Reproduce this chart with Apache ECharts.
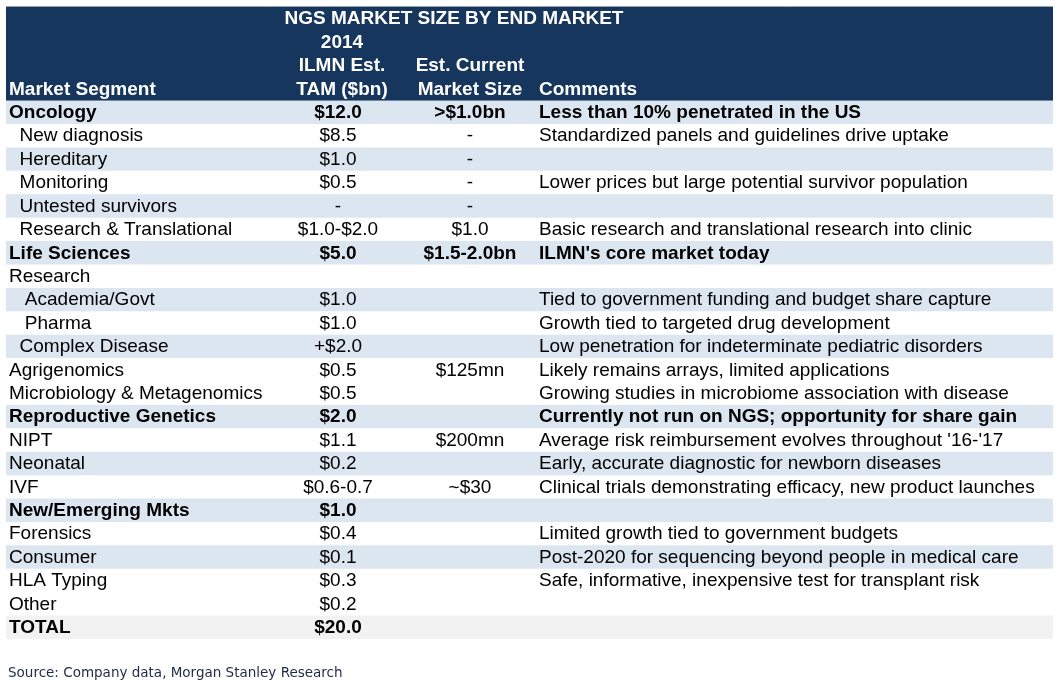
<!doctype html>
<html lang="en">
  <head>
    <meta charset="utf-8">
    <title>NGS Market Size by End Market</title>
    <script src="https://cdn.jsdelivr.net/npm/echarts@6/dist/echarts.min.js"></script>
    <style>
      html, body { margin: 0; padding: 0; background: #fff; }
      #main { width: 1062px; height: 688px; }
    </style>
  </head>
  <body>
    <div id="main"></div>

  <script>

    // Table content
    var headerLines = [
      ['', 'NGS MARKET SIZE BY END MARKET', '', ''],
      ['', '2014', '', ''],
      ['', 'ILMN Est.', 'Est. Current', ''],
      ['Market Segment', 'TAM ($bn)', 'Market Size', 'Comments']
    ];

    // leading spaces are the indents used in the source sheet
    var segments = [
      'Oncology', '  New diagnosis', '  Hereditary', '  Monitoring', '  Untested survivors',
      '  Research & Translational', 'Life Sciences', 'Research', '   Academia/Govt', '   Pharma',
      '  Complex Disease', 'Agrigenomics', 'Microbiology & Metagenomics', 'Reproductive Genetics',
      'NIPT', 'Neonatal', 'IVF', 'New/Emerging Mkts', 'Forensics', 'Consumer', 'HLA Typing',
      'Other', 'TOTAL'
    ];

    var tam = [
      '$12.0', '$8.5', '$1.0', '$0.5', '-', '$1.0-$2.0', '$5.0', '', '$1.0', '$1.0',
      '+$2.0', '$0.5', '$0.5', '$2.0', '$1.1', '$0.2', '$0.6-0.7', '$1.0', '$0.4', '$0.1',
      '$0.3', '$0.2', '$20.0'
    ];

    var currentSize = [
      '>$1.0bn', '-', '-', '-', '-', '$1.0', '$1.5-2.0bn', '', '', '',
      '', '$125mn', '', '', '$200mn', '', '~$30', '', '', '',
      '', '', ''
    ];

    var comments = [
      'Less than 10% penetrated in the US',
      'Standardized panels and guidelines drive uptake',
      '', 
      'Lower prices but large potential survivor population',
      '',
      'Basic research and translational research into clinic',
      "ILMN's core market today",
      '',
      'Tied to government funding and budget share capture',
      'Growth tied to targeted drug development',
      'Low penetration for indeterminate pediatric disorders',
      'Likely remains arrays, limited applications',
      'Growing studies in microbiome association with disease',
      'Currently not run on NGS; opportunity for share gain',
      "Average risk reimbursement evolves throughout '16-'17",
      'Early, accurate diagnostic for newborn diseases',
      'Clinical trials demonstrating efficacy, new product launches',
      '',
      'Limited growth tied to government budgets',
      'Post-2020 for sequencing beyond people in medical care',
      'Safe, informative, inexpensive test for transplant risk',
      '',
      ''
    ];

    // row kind: g = group heading (bold), i = item, t = total
    var rowKind = [
      'g', 'i', 'i', 'i', 'i', 'i', 'g', 'i', 'i', 'i', 'i', 'i', 'i', 'g',
      'i', 'i', 'i', 'g', 'i', 'i', 'i', 'i', 't'
    ];

    // layout / style (not data)
    var shadedRows = [0, 2, 4, 6, 8, 10, 13, 15, 17, 19];
    var TABLE_W = 1047;
    var colX = { seg: 3, tam: 332, cur: 464, com: 533, title: 448, head2: 336 };
    var NAVY = '#17365d', BAND = '#dce6f1', TOTAL_BG = '#f2f2f2';
    var FONT = 'Liberation Sans, Arial, sans-serif';
    var FS = 19;

    var nHead = headerLines.length;
    var rowCats = [];
    for (var r = 0; r < nHead + segments.length; r++) rowCats.push('r' + r);

    var rowsData = rowCats.map(function (c, i) { return [0, i]; });

    function txt(x, y, s, align, bold, color) {
      return {
        type: 'text', x: x, y: y, silent: true,
        style: {
          text: s, fill: color, align: align, verticalAlign: 'middle',
          font: (bold ? 'bold ' : '') + FS + 'px ' + FONT
        }
      };
    }

    function renderRow(params, api) {
      var idx = api.value(1);
      var c = api.coord([0, idx]);
      var h = api.size([0, 1])[1];
      var x0 = c[0];
      var x1 = api.coord([TABLE_W, idx])[0];
      var yMid = c[1] + 0.5;
      var children = [];
      var px = function (v) { return api.coord([v, idx])[0]; };

      if (idx < nHead) {
        if (idx === 0) {
          // one navy block behind all header lines
          children.push({
            type: 'rect', silent: true,
            shape: { x: x0, y: c[1] - h / 2, width: x1 - x0, height: h * nHead },
            style: { fill: NAVY }
          });
        }
        var hl = headerLines[idx];
        if (hl[0]) children.push(txt(px(colX.seg), yMid, hl[0], 'left', true, '#fff'));
        if (idx === 0) {
          children.push(txt(px(colX.title), yMid, hl[1], 'center', true, '#fff'));
        } else if (hl[1]) {
          children.push(txt(px(colX.head2), yMid, hl[1], 'center', true, '#fff'));
        }
        if (hl[2]) children.push(txt(px(colX.cur), yMid, hl[2], 'center', true, '#fff'));
        if (hl[3]) children.push(txt(px(colX.com), yMid, hl[3], 'left', true, '#fff'));
        return { type: 'group', children: children };
      }

      var b = idx - nHead;
      var kind = rowKind[b];
      var fill = kind === 't' ? TOTAL_BG : (shadedRows.indexOf(b) >= 0 ? BAND : null);
      if (fill) {
        children.push({
          type: 'rect', silent: true,
          shape: { x: x0, y: c[1] - h / 2, width: x1 - x0, height: h },
          style: { fill: fill }
        });
      }
      var bold = kind !== 'i';
      children.push(txt(px(colX.seg), yMid, segments[b], 'left', bold, '#000'));
      if (tam[b]) children.push(txt(px(colX.tam), yMid, tam[b], 'center', bold, '#000'));
      if (currentSize[b]) children.push(txt(px(colX.cur), yMid, currentSize[b], 'center', bold, '#000'));
      if (comments[b]) children.push(txt(px(colX.com), yMid, comments[b], 'left', bold, '#000'));
      return { type: 'group', children: children };
    }

    var chart = echarts.init(document.getElementById('main'), null, { renderer: 'canvas' });

    var option = {
      animation: false,
      backgroundColor: '#fff',
      title: {
        text: 'Source: Company data, Morgan Stanley Research',
        left: 8,
        top: 666,
        padding: 0,
        textStyle: { fontFamily: 'DejaVu Sans, sans-serif', fontSize: 13.5, fontWeight: 'normal', color: '#1f2a44' }
      },
      grid: { left: 6, right: 9, top: 7, bottom: 49 },
      xAxis: { type: 'value', min: 0, max: TABLE_W, show: false },
      yAxis: { type: 'category', data: rowCats, inverse: true, show: false },
      series: [{
        type: 'custom',
        renderItem: renderRow,
        data: rowsData,
        encode: { x: 0, y: 1 }
      }],
      graphic: [{
        type: 'line', silent: true,
        shape: { x1: 6, y1: 6.5, x2: 1053, y2: 6.5 },
        style: { stroke: '#9aa4b0', lineWidth: 1 }
      }]
    };

    chart.setOption(option);
    window.addEventListener('resize', chart.resize);

  </script>
  </body>
</html>
